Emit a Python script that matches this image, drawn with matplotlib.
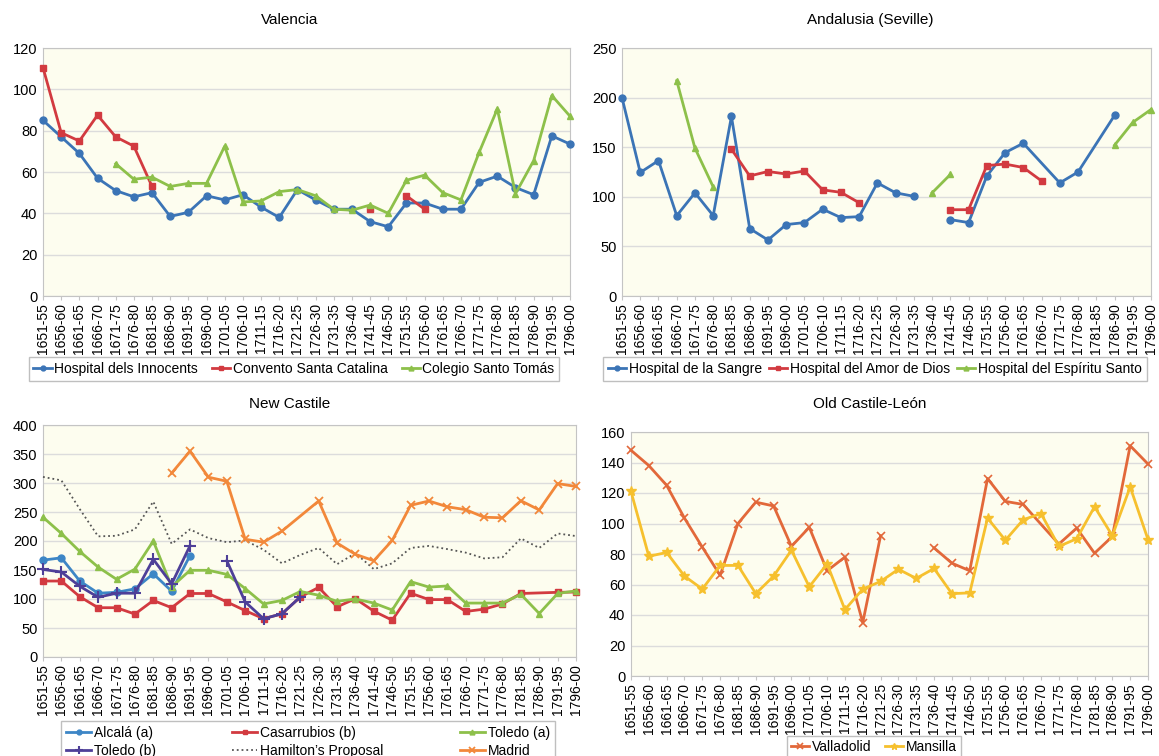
import matplotlib
matplotlib.use("Agg")
import matplotlib.pyplot as plt

plt.rcParams['font.family'] = ['Liberation Sans', 'DejaVu Sans']

NA = 'NA'  # no value, line is drawn across it (no gap)

periods = ['1651-55', '1656-60', '1661-65', '1666-70', '1671-75', '1676-80',
           '1681-85', '1686-90', '1691-95', '1696-00', '1701-05', '1706-10',
           '1711-15', '1716-20', '1721-25', '1726-30', '1731-35', '1736-40',
           '1741-45', '1746-50', '1751-55', '1756-60', '1761-65', '1766-70',
           '1771-75', '1776-80', '1781-85', '1786-90', '1791-95', '1796-00']

# Valencia
innocents = [85, 77, 69, 57, 51, 48, 50, 38.5, 40.5, 48.5, 46.5, 49, 43, 38, 51.5,
             46.5, 42, 42, 36, 33.5, 45, 45, 42, 42, 55, 58, 52.5, 49, 77.5, 73.5]
catalina = [110.5, 79, 75, 87.5, 77, 72.5, 53] + [None] * 11 + [42, None, 48.5, 42] + [None] * 8
tomas = [None] * 4 + [64, 56.5, 57.5, 53, 54.5, 54.5, 72.5, 45.5, 46, 50.5, 51.5, 48.5,
                      42, 41.5, 44, 40, 56, 58.5, 50, 46.5, 69.5, 90.5, 49.5, 65.5, 97, 87]

# Andalusia (Seville)
sangre = [200, 124.5, 136.5, 81, 104, 81, 181, 68, 56.5, 72, 74, 87.5, 79, 80, 114, 104,
          100.5, None, 77, 74, 121, 144.5, 154, NA, 114, 125, NA, 182, None, None]
amor = [None] * 6 + [148, 121, 125.5, 123, 126, 107, 104.5, 94] + [None] * 4 + \
       [87, 87, 131.5, 133, 129.5, 116] + [None] * 6
espiritu = [None] * 3 + [217, 149, 110] + [None] * 11 + [104, 122.5] + [None] * 8 + [152, 175, 188]

# New Castile
alcala = [167, 171, 131, 110, 111.5, 117.5, 143.5, 113.5, 175] + [None] * 21
casarrubios = [131, 131, 104, 85, 85, 74, 97.5, 85, 109.5, 109.5, 95, 80, 66, 74.5, 103.5,
               120, 86.5, 100.5, 79, 63.5, 110, 99, 99, 78.5, 82.5, 91.5, 109.5, NA, 111.5, 112]
toledo_a = [241, 213, 182, 155, 134, 151.5, 200, 121, 149.5, 149.5, 142.5, 118, 91.5, 97.5,
            113, 106.5, 96, 100, 93, 81, 130, 120.5, 122.5, 93, 93, 93, 108, 75, 109.5, 114]
toledo_b = [151, 146.5, 122, 103, 110, 110, 168.5, 126, 192, None, 166, 95, 66, 74.5, 103.5] + [None] * 15
hamilton = [310.5, 304.5, 255, 208, 209, 220, 268, 195, 220, 205, 198, 201, 185, 161.5, 176,
            188, 160, 179, 151.5, 161.5, 188, 191.5, 186, 180, 170, 172, 204.5, 188, 213, 208.5]
madrid = [None] * 7 + [317, 355, 310, 303, 203, 198, 217, NA, 269, 196.5, 177, 166, 201, 261.5,
                       269, 259, 254, 241, 240, 269.5, 253.5, 299, 294]

# Old Castile-León
valladolid = [148, 138, 125, 103.5, 84.5, 66, 100, 114, 111.5, 85, 97.5, 69, 78, 35, 92, None, None,
              84, 74, 69, 129.5, 114.5, 112.5, NA, 86.5, 97, 80.5, 91.5, 151, 139]
mansilla = [121, 78.5, 81, 65.5, 57, 72.5, 72.5, 54, 65.5, 82.5, 58.5, 73.5, 43.5, 57, 62, 70,
            64, 70.5, 54, 54.5, 103.5, 89, 102.5, 106.5, 85, 90, 111, 92, 124, 89.5]

W, H = 1159, 756
fig = plt.figure(figsize=(W / 100, H / 100), dpi=100)
fig.patch.set_facecolor('white')


def box(l, t, r, b):
    # pixel edges -> figure fraction
    return [l / W, 1 - b / H, (r - l) / W, (b - t) / H]


def draw(ax, vals, color, marker, label, ms=5, ls='-', lw=2, mew=1):
    segs, xs, ys = [], [], []
    for i, v in enumerate(vals):
        if v is None:
            if xs:
                segs.append((xs, ys))
            xs, ys = [], []
        elif v == NA:
            continue
        else:
            xs.append(i)
            ys.append(v)
    if xs:
        segs.append((xs, ys))
    h = None
    for sx, sy in segs:
        ln, = ax.plot(sx, sy, color=color, marker=marker, ms=ms, ls=ls, lw=lw,
                      mew=mew, clip_on=False, zorder=3)
        if h is None:
            h = ln
    h.set_label(label)
    return h


def style(ax, top, step):
    ax.set_facecolor('#FDFDEF')
    for sp in ax.spines.values():
        sp.set_color('#C4C4C4')
    ax.grid(axis='y', color='#DCDCDC', lw=1)
    ax.set_axisbelow(True)
    ax.set_xlim(0, len(periods) - 1)
    ax.set_ylim(0, top)
    ax.set_yticks(range(0, top + 1, step))
    ax.set_xticks(range(len(periods)))
    ax.set_xticklabels(periods, rotation=90)
    ax.tick_params(axis='y', length=0, labelsize=10.5, pad=4)
    ax.tick_params(axis='x', length=3, color='#C4C4C4', labelsize=10, pad=2)


blue = '#3B74B6'
red = '#D23A40'
green = '#8DC04A'
purple = '#4E3F98'
orange = '#F2883A'
vall_c = '#E2683A'
mans_c = '#F6C02E'

# Valencia
ax1 = fig.add_axes(box(43, 48, 570, 296))
style(ax1, 120, 20)
h = [draw(ax1, innocents, blue, 'o', 'Hospital dels Innocents'),
     draw(ax1, catalina, red, 's', 'Convento Santa Catalina'),
     draw(ax1, tomas, green, '^', 'Colegio Santo Tomás')]
fig.text(290 / W, 1 - 20 / H, 'Valencia', ha='center', va='center', fontsize=11)
fig.legend(handles=h, loc='center', bbox_to_anchor=(294 / W, 1 - 369 / H), ncol=3,
           fontsize=10, frameon=True, fancybox=False, edgecolor='#B0B0B0',
           handlelength=1.3, handletextpad=0.2, columnspacing=1.0, borderpad=0.35,
           numpoints=1, markerscale=0.7)

# Andalusia
ax2 = fig.add_axes(box(622, 48, 1151, 296))
style(ax2, 250, 50)
h = [draw(ax2, sangre, blue, 'o', 'Hospital de la Sangre'),
     draw(ax2, amor, red, 's', 'Hospital del Amor de Dios'),
     draw(ax2, espiritu, green, '^', 'Hospital del Espíritu Santo')]
fig.text(870 / W, 1 - 20 / H, 'Andalusia (Seville)', ha='center', va='center', fontsize=11)
fig.legend(handles=h, loc='center', bbox_to_anchor=(875 / W, 1 - 369 / H), ncol=3,
           fontsize=10, frameon=True, fancybox=False, edgecolor='#B0B0B0',
           handlelength=1.3, handletextpad=0.2, columnspacing=0.5, borderpad=0.35,
           numpoints=1, markerscale=0.7)

# New Castile
ax3 = fig.add_axes(box(43, 425, 576, 657))
style(ax3, 400, 50)
h = [draw(ax3, alcala, '#3D86C6', 'o', 'Alcalá (a)'),
     draw(ax3, casarrubios, red, 's', 'Casarrubios (b)'),
     draw(ax3, toledo_a, green, '^', 'Toledo (a)'),
     draw(ax3, toledo_b, purple, '+', 'Toledo (b)', ms=8, mew=1.5),
     draw(ax3, hamilton, '#555555', None, 'Hamilton\u2019s Proposal', ls=':', lw=1.3),
     draw(ax3, madrid, orange, 'x', 'Madrid', ms=6, mew=1.3)]
fig.text(290 / W, 1 - 404 / H, 'New Castile', ha='center', va='center', fontsize=11)
order = [h[0], h[3], h[1], h[4], h[2], h[5]]
fig.legend(handles=order, loc='upper center', bbox_to_anchor=(308 / W, 1 - 714 / H), ncol=3,
           fontsize=10, frameon=True, fancybox=False, edgecolor='#B0B0B0',
           handlelength=1.8, handletextpad=0.2, columnspacing=5.5, borderpad=0.35,
           labelspacing=0.3, numpoints=1, markerscale=0.7)

# Old Castile-León
ax4 = fig.add_axes(box(631, 432, 1148, 676))
style(ax4, 160, 20)
h = [draw(ax4, valladolid, vall_c, 'x', 'Valladolid', ms=6, mew=1.2),
     draw(ax4, mansilla, mans_c, '*', 'Mansilla', ms=7)]
fig.text(870 / W, 1 - 404 / H, 'Old Castile-León', ha='center', va='center', fontsize=11)
fig.legend(handles=h, loc='center', bbox_to_anchor=(874 / W, 1 - 747 / H), ncol=2,
           fontsize=10, frameon=True, fancybox=False, edgecolor='#B0B0B0',
           handlelength=1.3, handletextpad=0.2, columnspacing=1.0, borderpad=0.3,
           numpoints=1, markerscale=0.7)

fig.savefig('out.png', dpi=100, facecolor=fig.get_facecolor())
